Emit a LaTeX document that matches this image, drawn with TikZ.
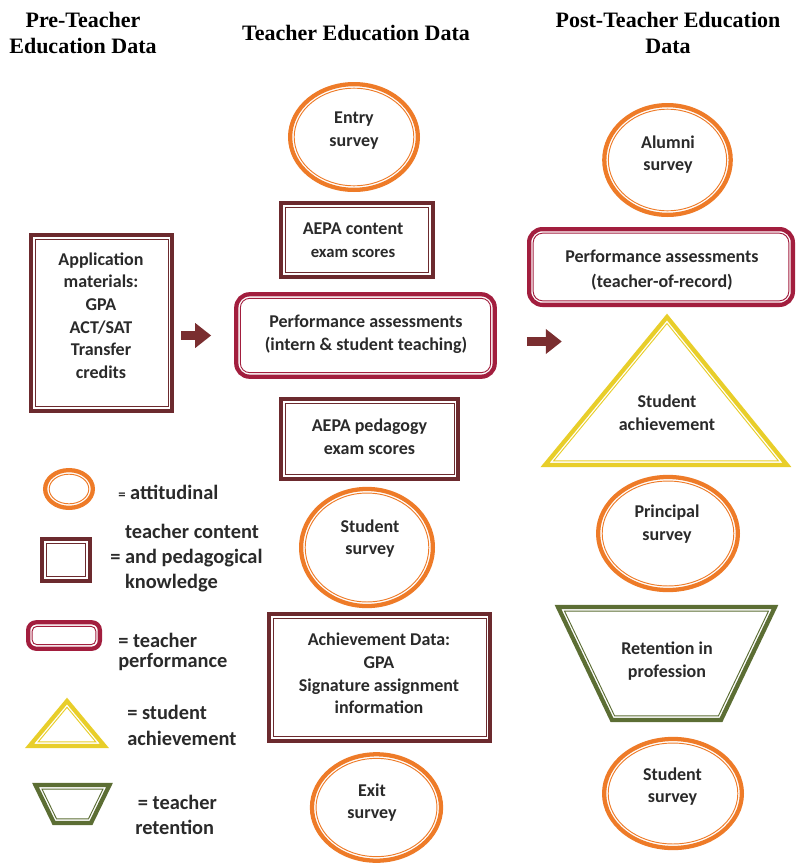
\documentclass[tikz,border=0pt]{standalone}
\usepackage{fontspec}
\newfontfamily\cb{Carlito}
\newfontfamily\hd{Liberation Serif}
\usetikzlibrary{shapes.geometric,arrows.meta}
\definecolor{orng}{HTML}{EE7B28}
\definecolor{maroonc}{HTML}{6C2A2E}
\definecolor{crim}{HTML}{A21E3E}
\definecolor{yel}{HTML}{E8CE2A}
\definecolor{olive}{HTML}{5C6E34}
\definecolor{arr}{HTML}{7A2E30}
\definecolor{txtc}{HTML}{2A2A2A}
% #1 name, #2 shape style, #3 colour, #4 centre, #5 width (pt), #6 height (pt)
\newcommand\dblnode[6]{%
  \node[#2, draw=#3, line width=3.2pt, fill=white, minimum width=#5pt, minimum height=#6pt] (#1) at #4 {};
  \node[#2, inrc, draw=#3, line width=0.7pt, minimum width=#5pt-6.1pt, minimum height=#6pt-6.1pt] (#1-in) at #4 {};}
\begin{document}
\begin{tikzpicture}[x=0.75pt,y=-0.75pt,
  ell/.style={ellipse, inner sep=0pt, inrc/.style={}},
  box/.style={rectangle, inner sep=0pt, inrc/.style={}},
  rbox/.style={rectangle, rounded corners=10pt, inner sep=0pt, inrc/.style={rounded corners=7pt}},
  lrbox/.style={rectangle, rounded corners=6pt, inner sep=0pt, inrc/.style={rounded corners=3.5pt}},
  othk/.style={draw=#1, line width=3.2pt, fill=white},
  othn/.style={draw=#1, line width=0.7pt},
  txt/.style={font=\cb\bfseries\fontsize{13.5}{17}\selectfont, text=txtc, align=center, inner sep=0pt},
  lgt/.style={font=\cb\bfseries\fontsize{15.3}{19}\selectfont, text=txtc, align=left, anchor=west, inner sep=0pt},
  hdr/.style={font=\hd\bfseries\fontsize{16.5}{19.5}\selectfont, text=black, align=center, inner sep=0pt},
  blk/.style={draw=arr, line width=6.5pt, -{Triangle[length=12pt,width=18pt]}},
]
\useasboundingbox (0,0) rectangle (796,864);

% headers
\node[hdr] (h1) at (83,33) {Pre-Teacher\\Education Data};
\node[hdr] (h2) at (356,33) {Teacher Education Data};
\node[hdr] (h3) at (668,33) {Post-Teacher Education\\Data};

% left column
\dblnode{app}{box}{maroonc}{(101.5,323)}{105.8}{131.8}
\node[txt] (app-t) at (101,315.5) {Application\\materials:\\GPA\\ACT/SAT\\Transfer\\credits};

% middle column
\dblnode{entry}{ell}{orng}{(354,137)}{95.8}{79.3}
\node[txt] (entry-t) at (354,130.5) {Entry\\survey};
\dblnode{aepa1}{box}{maroonc}{(357,240)}{113.8}{55.3}
\node[txt] (aepa1-t) at (353,240) {AEPA content\\{\fontsize{12.5}{17}\selectfont exam scores}};
\dblnode{perf1}{rbox}{crim}{(365.5,335.5)}{193.8}{61.8}
\node[txt] (perf1-t) at (366,334.5) {Performance assessments\\(intern \& student teaching)};
\dblnode{aepa2}{box}{maroonc}{(369.5,439)}{132.8}{59.8}
\node[txt] (aepa2-t) at (369.5,437) {AEPA pedagogy\\exam scores};
\dblnode{smid}{ell}{orng}{(367,547.5)}{98.8}{87.8}
\node[txt] (smid-t) at (370,538.5) {Student\\survey};
\dblnode{ach}{box}{maroonc}{(379.5,677.5)}{165.8}{94.8}
\node[txt] (ach-t) at (379,673.5) {Achievement Data:\\GPA\\Signature assignment\\information};
\dblnode{exit}{ell}{orng}{(376.5,807.5)}{96.8}{79.8}
\node[txt] (exit-t) at (372,802.5) {Exit\\survey};

% right column
\dblnode{alum}{ell}{orng}{(667.5,160)}{94.8}{82.3}
\node[txt] (alum-t) at (668,154.5) {Alumni\\survey};
\dblnode{perf2}{rbox}{crim}{(661,267)}{197.8}{56.8}
\node[txt] (perf2-t) at (662,270) {Performance assessments\\[2pt](teacher-of-record)};
\draw[othk=yel] (667,317) coordinate (triA) -- (545,465) coordinate (triB) -- (787,465) coordinate (triC) -- cycle;
\draw[othn=yel] (667,323.4) -- (553.6,460.9) -- (778.4,460.9) -- cycle;
\node[txt] (tri-t) at (667,412.5) {Student\\achievement};
\dblnode{prin}{ell}{orng}{(668,533.5)}{104.8}{84.8}
\node[txt] (prin-t) at (667,524) {Principal\\survey};
\draw[othk=olive] (558,607) coordinate (trA) -- (775,607) coordinate (trB) -- (721,720) coordinate (trC) -- (612,720) coordinate (trD) -- cycle;
\draw[othn=olive] (564.5,611.1) -- (768.5,611.1) -- (718.4,715.9) -- (614.6,715.9) -- cycle;
\node[txt] (ret-t) at (667,661) {Retention in\\profession};
\dblnode{sr}{ell}{orng}{(673,793.5)}{103.3}{81.8}
\node[txt] (sr-t) at (672.5,786.5) {Student\\survey};

% arrows
\path (app.east |- perf1.west) ++(7,0) coordinate (a1s);
\path (perf1.west) ++(-23,0) coordinate (a1e);
\draw[blk] (a1s) -- (a1e);
\path (perf1.east) ++(30,6) coordinate (a2s) ++(35,0) coordinate (a2e);
\draw[blk] (a2s) -- (a2e);

% legend
\dblnode{lell}{ell}{orng}{(69,489)}{35.8}{28.3}
\node[lgt] (lell-t) at (118,492) {{\fontsize{11}{19}\selectfont =} attitudinal};
\dblnode{lsq}{box}{maroonc}{(66,560)}{35.8}{31.3}
\node[lgt, font=\cb\bfseries\fontsize{15.3}{18.75}\selectfont] (lsq-t) at (110,558) {\phantom{= }teacher content\\= and pedagogical\\\phantom{= }knowledge};
\dblnode{lrb}{lrbox}{crim}{(64,635.5)}{53.8}{19.8}
\node[lgt, font=\cb\bfseries\fontsize{15.3}{15.5}\selectfont] (lrb-t) at (118,652) {= teacher\\performance};
\draw[othk=yel] (67,701) coordinate (ltA) -- (29.5,746) coordinate (ltB) -- (104.5,746) coordinate (ltC) -- cycle;
\draw[othn=yel] (67,707.3) -- (38.2,741.9) -- (95.8,741.9) -- cycle;
\node[lgt, font=\cb\bfseries\fontsize{15.3}{19.5}\selectfont] (ltri-t) at (127,725) {= student\\achievement};
\draw[othk=olive] (35.5,785) coordinate (lzA) -- (109.5,785) coordinate (lzB) -- (91,823) coordinate (lzC) -- (54,823) coordinate (lzD) -- cycle;
\draw[othn=olive] (42,789.1) -- (103,789.1) -- (88.45,818.9) -- (56.55,818.9) -- cycle;
\node[lgt, font=\cb\bfseries\fontsize{15.3}{18.75}\selectfont] (lz-t) at (135,814.5) {\hspace{2pt}= teacher\\retention};
\end{tikzpicture}
\end{document}
